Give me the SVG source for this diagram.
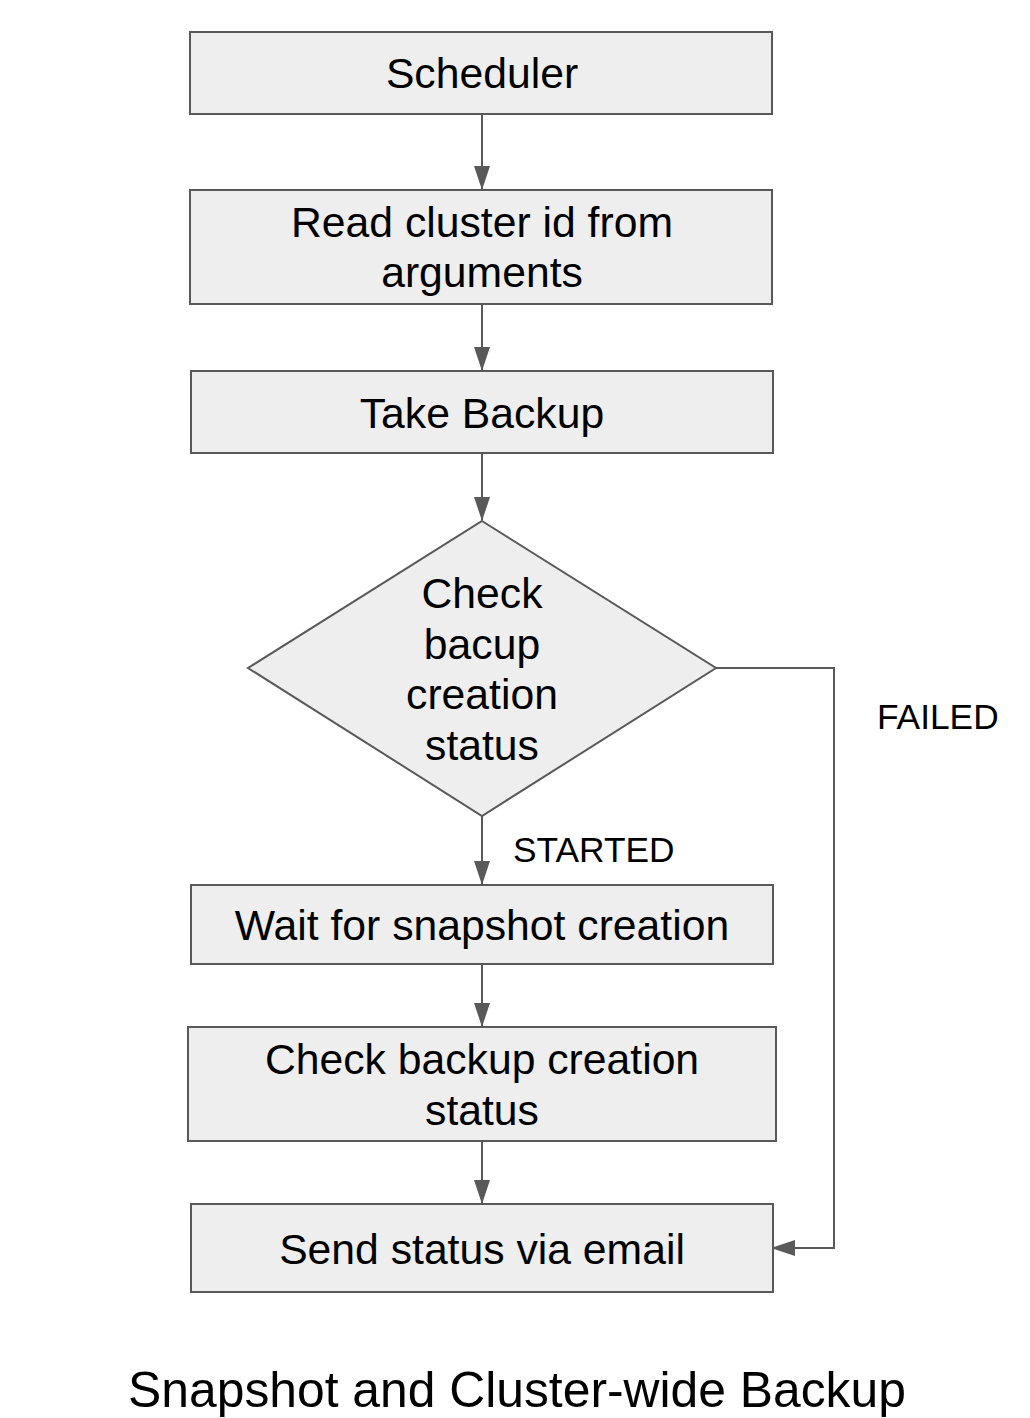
<svg xmlns="http://www.w3.org/2000/svg" width="1030" height="1418" viewBox="0 0 1030 1418">
<style>
.box{fill:#eeeeee;stroke:#595959;stroke-width:2}
.t{font-family:"Liberation Sans",Arial,sans-serif;font-size:42.7px;fill:#000;text-anchor:middle}
.lbl{font-family:"Liberation Sans",Arial,sans-serif;font-size:35.3px;fill:#000}
.c{fill:none;stroke:#595959;stroke-width:2}
</style>
<defs>
<marker id="ah" markerUnits="userSpaceOnUse" markerWidth="24" markerHeight="18" viewBox="0 0 24 18" refX="23" refY="9" orient="auto">
<path d="M0,1 L24,9 L0,17 Z" fill="#595959"/>
</marker>
</defs>
<rect width="1030" height="1418" fill="#fff"/>
<g id="connectors">
<line class="c" x1="482" y1="114" x2="482" y2="189" marker-end="url(#ah)"/>
<line class="c" x1="482" y1="304" x2="482" y2="370" marker-end="url(#ah)"/>
<line class="c" x1="482" y1="453" x2="482" y2="520" marker-end="url(#ah)"/>
<line class="c" x1="482" y1="816" x2="482" y2="884" marker-end="url(#ah)"/>
<line class="c" x1="482" y1="964" x2="482" y2="1026" marker-end="url(#ah)"/>
<line class="c" x1="482" y1="1141" x2="482" y2="1203" marker-end="url(#ah)"/>
<polyline class="c" points="716,668 834,668 834,1248 772,1248" marker-end="url(#ah)"/>
<text class="lbl" x="513" y="862">STARTED</text>
<text class="lbl" x="877" y="729">FAILED</text>
</g>
<g id="scheduler">
<rect class="box" x="190" y="32" width="582" height="82"/>
<text class="t" x="482" y="88">Scheduler</text>
</g>
<g id="read-cluster">
<rect class="box" x="190" y="190" width="582" height="114"/>
<text class="t" x="482" y="237">Read cluster id from</text>
<text class="t" x="482" y="287">arguments</text>
</g>
<g id="take-backup">
<rect class="box" x="191" y="371" width="582" height="82"/>
<text class="t" x="482" y="428">Take Backup</text>
</g>
<g id="check-status-decision">
<polygon class="box" points="482,521 716,668 482,816 248,668"/>
<text class="t" x="482" y="608">Check</text>
<text class="t" x="482" y="659">bacup</text>
<text class="t" x="482" y="709">creation</text>
<text class="t" x="482" y="760">status</text>
</g>
<g id="wait-snapshot">
<rect class="box" x="191" y="885" width="582" height="79"/>
<text class="t" x="482" y="940">Wait for snapshot creation</text>
</g>
<g id="check-backup">
<rect class="box" x="188" y="1027" width="588" height="114"/>
<text class="t" x="482" y="1074">Check backup creation</text>
<text class="t" x="482" y="1125">status</text>
</g>
<g id="send-email">
<rect class="box" x="191" y="1204" width="582" height="88"/>
<text class="t" x="482" y="1264">Send status via email</text>
</g>
<text x="517" y="1407" font-family="'Liberation Sans',Arial,sans-serif" font-size="49.8" text-anchor="middle" fill="#000">Snapshot and Cluster-wide Backup</text>
</svg>
